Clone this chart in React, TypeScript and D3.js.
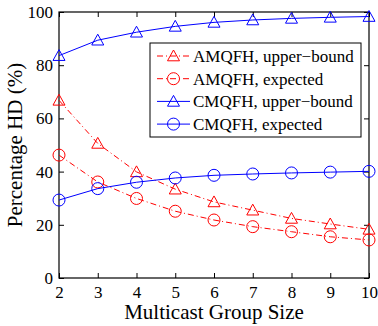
import { useEffect, useRef } from "react";
import * as d3 from "d3";

const groupSizes = [2, 3, 4, 5, 6, 7, 8, 9, 10];
const amqfhUpper = [66.8, 50.6, 39.9, 33.4, 28.6, 25.5, 22.4, 20.3, 18.3];
const amqfhExpected = [46.2, 36.1, 29.9, 25.1, 21.8, 19.3, 17.4, 15.5, 14.3];
const cmqfhUpper = [83.6, 89.4, 92.4, 94.6, 96.1, 97.0, 97.6, 98.0, 98.3];
const cmqfhExpected = [29.3, 33.6, 36.0, 37.6, 38.6, 39.1, 39.5, 39.8, 40.1];
const yTicks = [0, 20, 40, 60, 80, 100];

const series = [
  { name: "AMQFH, upper\u2212bound", values: amqfhUpper, color: "#ff0000", marker: "triangle", dash: "6,3,1,3" },
  { name: "AMQFH, expected", values: amqfhExpected, color: "#ff0000", marker: "circle", dash: "6,3,1,3" },
  { name: "CMQFH, upper\u2212bound", values: cmqfhUpper, color: "#0000ff", marker: "triangle", dash: null },
  { name: "CMQFH, expected", values: cmqfhExpected, color: "#0000ff", marker: "circle", dash: null },
];

const W = 378, H = 326;
const m = { left: 59, right: 9, top: 12, bottom: 48 };

export default function App() {
  const ref = useRef<SVGSVGElement>(null);

  useEffect(() => {
    const svg = d3.select(ref.current);
    svg.selectAll("*").remove();
    const font = "'Liberation Serif', 'Times New Roman', serif";

    const x = d3.scaleLinear().domain([2, 10]).range([m.left, W - m.right]);
    const y = d3.scaleLinear().domain([0, 100]).range([H - m.bottom, m.top]);

    const drawMarker = (g: any, kind: string, cx: number, cy: number, color: string) => {
      if (kind === "circle") {
        g.append("circle").attr("cx", cx).attr("cy", cy).attr("r", 6)
          .attr("fill", "none").attr("stroke", color).attr("stroke-width", 1);
      } else {
        const s = 6;
        g.append("path")
          .attr("d", `M${cx},${cy - s}L${cx + s},${cy + s * 0.8}L${cx - s},${cy + s * 0.8}Z`)
          .attr("fill", "none").attr("stroke", color).attr("stroke-width", 1);
      }
    };

    // axes
    const bottom = svg.append("g").attr("transform", `translate(0,${H - m.bottom})`)
      .call(d3.axisBottom(x).tickValues(groupSizes).tickSize(-5).tickPadding(8).tickFormat(d3.format("d")));
    const left = svg.append("g").attr("transform", `translate(${m.left},0)`)
      .call(d3.axisLeft(y).tickValues(yTicks).tickSize(-5).tickPadding(6));
    const top = svg.append("g").attr("transform", `translate(0,${m.top})`)
      .call(d3.axisTop(x).tickValues(groupSizes).tickSize(-5).tickFormat(() => ""));
    const right = svg.append("g").attr("transform", `translate(${W - m.right},0)`)
      .call(d3.axisRight(y).tickValues(yTicks).tickSize(-5).tickFormat(() => ""));
    [bottom, left, top, right].forEach((a) => {
      a.select(".domain").remove();
      a.selectAll("line").attr("stroke", "#000");
      a.selectAll("text").attr("font-family", font).attr("font-size", 17).attr("fill", "#000");
    });

    svg.append("rect")
      .attr("x", m.left).attr("y", m.top)
      .attr("width", W - m.left - m.right).attr("height", H - m.top - m.bottom)
      .attr("fill", "none").attr("stroke", "#000").attr("stroke-width", 1.2);

    const line = d3.line<number>().x((_, i) => x(groupSizes[i])).y((d) => y(d));

    series.forEach((s) => {
      const g = svg.append("g");
      g.append("path").attr("d", line(s.values)).attr("fill", "none")
        .attr("stroke", s.color).attr("stroke-width", 1)
        .attr("stroke-dasharray", s.dash ?? null);
      s.values.forEach((v, i) => drawMarker(g, s.marker, x(groupSizes[i]), y(v), s.color));
    });

    // legend
    const lg = svg.append("g");
    lg.append("rect").attr("x", 150).attr("y", 43).attr("width", 211).attr("height", 94)
      .attr("fill", "#fff").attr("stroke", "#000").attr("stroke-width", 1);
    series.forEach((s, i) => {
      const ly = 56 + i * 22.7;
      lg.append("line").attr("x1", 157).attr("x2", 190).attr("y1", ly).attr("y2", ly)
        .attr("stroke", s.color).attr("stroke-width", 1).attr("stroke-dasharray", s.dash ?? null);
      drawMarker(lg, s.marker, 173.5, ly, s.color);
      lg.append("text").attr("x", 193).attr("y", ly + 6).text(s.name)
        .attr("font-family", font).attr("font-size", 17);
    });

    svg.append("text").attr("x", (m.left + W - m.right) / 2).attr("y", 319)
      .attr("text-anchor", "middle").attr("font-family", font).attr("font-size", 21)
      .text("Multicast Group Size");
    svg.append("text").attr("transform", `translate(22,${(m.top + H - m.bottom) / 2}) rotate(-90)`)
      .attr("text-anchor", "middle").attr("font-family", font).attr("font-size", 21)
      .text("Percentage HD (%)");
  }, []);

  return (
    <svg ref={ref} width={W} height={H} style={{ position: "absolute", left: 0, top: 0, background: "#fff" }} />
  );
}
